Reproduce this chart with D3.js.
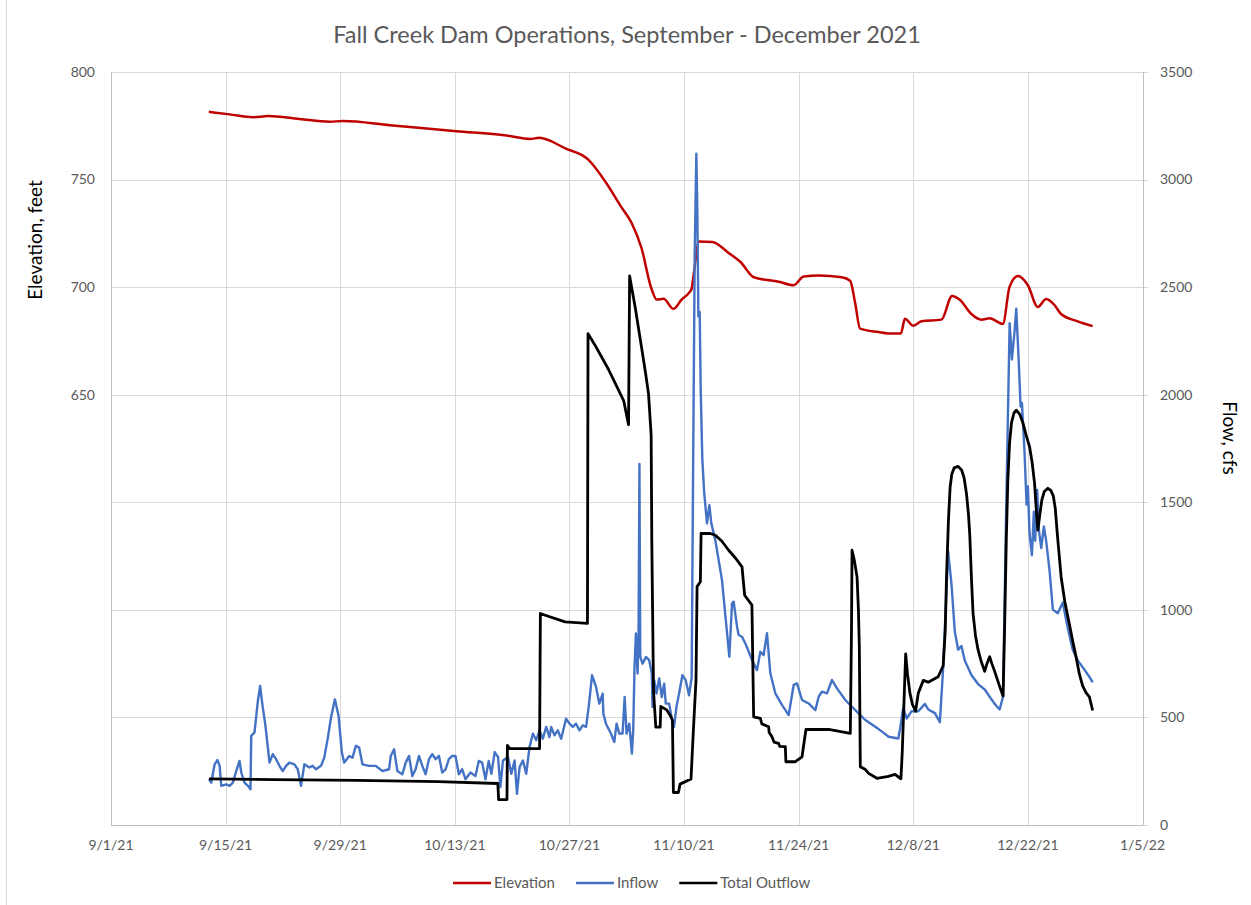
<!DOCTYPE html>
<html>
<head>
<meta charset="utf-8">
<script src="https://cdn.jsdelivr.net/npm/d3@7"></script>
<style>
  body { margin: 0; background: #fff; }
  svg { display: block; font-family: Lato, "Open Sans", sans-serif; }
</style>
</head>
<body>
<svg width="1251" height="905"></svg>
<script>
// days after 9/1/21, value
var startDate = "2021-09-01";

var xTickLabels = ["9/1/21", "9/15/21", "9/29/21", "10/13/21", "10/27/21", "11/10/21", "11/24/21", "12/8/21", "12/22/21", "1/5/22"];
var elevTicks = [800, 750, 700, 650];
var flowTicks = [0, 500, 1000, 1500, 2000, 2500, 3000, 3500];

var elevation = [
  [11.95, 781.5], [14.5, 780.3], [17.35, 779.0], [19.2, 779.5], [23, 778.2], [26.7, 776.9], [28.35, 777.2],
  [34.06, 775.3], [42.2, 772.5], [48.3, 770.5], [51.2, 768.9], [52.3, 769.4], [55.5, 764.5], [58.3, 759.3],
  [60.5, 748.4], [62.2, 738], [63.6, 729.8], [64.8, 718.2], [66.0, 699.5], [66.65, 694.2], [67.5, 694.6],
  [68.7, 689.9], [69.7, 694.2], [70.7, 697.8], [70.93, 699.3], [71.22, 707.1], [71.83, 721.2], [73.44, 721.0],
  [75.48, 715.8], [76.9, 711.7], [78.52, 704.6], [81.57, 702.5], [83.39, 700.9], [84.61, 705.0], [86.44, 705.4],
  [89.27, 704.6], [90.29, 703.0], [90.9, 692.6], [91.5, 680.7], [93.75, 679.1], [94.95, 678.5], [96.49, 678.5],
  [96.98, 685.3], [98.0, 682.1], [99.0, 684.1], [101.44, 684.9], [102.74, 695.9], [103.68, 694.1], [105.09, 687.5],
  [106.32, 684.9], [107.33, 685.5], [108.95, 682.9], [109.76, 700.1], [110.77, 705.2], [112.0, 700.9],
  [113.21, 690.8], [114.23, 694.5], [115.25, 691.7], [116.05, 687.5], [118.08, 684.1], [119.91, 681.9]
];

var inflow = [
  [11.97, 213], [12.25, 197], [12.66, 282], [12.99, 302], [13.27, 275], [13.47, 182], [14.08, 189], [14.49, 182],
  [14.89, 197], [15.30, 251], [15.70, 298], [15.91, 244], [16.31, 197], [16.72, 182], [17.04, 166], [17.13, 414],
  [17.53, 430], [17.94, 577], [18.22, 646], [18.46, 569], [18.87, 461], [19.36, 290], [19.76, 329], [20.17, 306],
  [20.57, 275], [20.98, 251], [21.39, 275], [21.79, 290], [22.40, 282], [22.81, 259], [23.21, 182], [23.62, 282],
  [24.23, 267], [24.63, 275], [25.04, 259], [25.65, 275], [26.05, 313], [26.46, 399], [26.87, 499], [27.35, 584],
  [27.80, 507], [28.20, 337], [28.49, 290], [29.10, 321], [29.50, 313], [29.91, 368], [30.31, 360], [30.72, 282],
  [31.53, 275], [32.34, 275], [33.16, 251], [33.97, 259], [34.17, 321], [34.58, 352], [34.98, 251], [35.59, 236],
  [36.0, 290], [36.40, 321], [36.81, 228], [37.21, 259], [37.62, 321], [38.03, 275], [38.43, 236], [38.84, 306],
  [39.24, 329], [39.65, 306], [40.06, 321], [40.46, 244], [40.87, 259], [41.27, 306], [41.68, 321], [42.08, 321],
  [42.49, 236], [42.90, 259], [43.30, 213], [43.91, 244], [44.52, 228], [44.93, 298], [45.33, 290], [45.74, 213],
  [46.14, 298], [46.46, 238], [46.87, 339], [47.28, 316], [47.56, 176], [47.88, 300], [48.49, 316], [48.90, 238],
  [49.30, 300], [49.59, 145], [49.91, 269], [50.32, 300], [50.72, 238], [51.13, 363], [51.54, 425], [51.94, 394],
  [52.35, 440], [52.75, 401], [53.16, 456], [53.56, 409], [53.77, 456], [54.17, 417], [54.58, 440], [54.99, 401],
  [55.59, 494], [56.0, 471], [56.41, 456], [56.81, 471], [57.22, 440], [57.62, 463], [58.03, 456], [58.35, 549],
  [58.76, 696], [59.25, 642], [59.65, 564], [60.06, 611], [60.14, 518], [60.46, 471], [61.07, 425], [61.48, 386],
  [61.76, 471], [62.09, 425], [62.49, 425], [62.74, 595], [62.98, 425], [63.31, 471], [63.63, 332], [63.79, 440],
  [63.95, 735], [64.12, 890], [64.32, 704], [64.44, 874], [64.55, 1678], [64.65, 781], [64.93, 750], [65.34, 781],
  [65.74, 766], [66.06, 704], [66.15, 549], [66.35, 673], [66.63, 611], [66.96, 681], [67.28, 595], [67.57, 657],
  [67.77, 564], [68.18, 564], [68.50, 494], [68.78, 456], [69.07, 549], [69.39, 611], [69.80, 696], [70.20, 673],
  [70.61, 603], [70.93, 686], [71.10, 1618], [71.30, 2654], [71.50, 3120], [71.62, 2861], [71.75, 2364],
  [71.91, 2385], [72.03, 2032], [72.23, 1701], [72.45, 1550], [72.80, 1402], [73.09, 1487], [73.33, 1402],
  [73.82, 1324], [74.63, 1139], [75.53, 782], [75.86, 1030], [76.06, 1038], [76.47, 922], [76.67, 883],
  [77.08, 875], [77.49, 844], [78.30, 767], [78.91, 720], [79.32, 805], [79.72, 790], [80.13, 891], [80.54, 705],
  [81.15, 612], [81.96, 558], [82.78, 511], [83.39, 651], [83.80, 658], [84.41, 581], [85.22, 565], [86.04, 534],
  [86.44, 596], [86.85, 620], [87.46, 612], [88.07, 674], [88.68, 635], [89.70, 581], [90.92, 534], [92.14, 488],
  [93.36, 457], [94.18, 434], [94.99, 410], [96.17, 402], [96.38, 445], [96.78, 546], [97.19, 495], [97.80, 529],
  [98.61, 529], [99.42, 563], [99.83, 537], [100.64, 520], [101.25, 478], [101.65, 731], [102.26, 1270],
  [102.67, 1119], [103.07, 900], [103.48, 815], [103.88, 832], [104.29, 765], [105.10, 697], [105.91, 655],
  [106.73, 630], [107.33, 596], [107.94, 563], [108.55, 537], [108.96, 596], [109.36, 1489], [109.77, 2332],
  [110.05, 2164], [110.38, 2298], [110.58, 2400], [110.87, 2164], [111.11, 1945], [111.27, 1962], [111.60, 1725],
  [111.84, 1489], [112.0, 1574], [112.20, 1355], [112.49, 1254], [112.73, 1456], [112.89, 1321], [113.14, 1557],
  [113.34, 1372], [113.63, 1287], [113.95, 1388], [114.23, 1321], [114.64, 1186], [115.05, 1001], [115.65, 984],
  [116.26, 1034], [116.87, 916], [117.48, 815], [118.09, 765], [118.90, 722], [119.51, 689], [119.92, 663]
];

var outflow = [
  [11.97, 214], [20, 211], [30, 207], [40, 202], [47.25, 193], [47.35, 118], [48.37, 118], [48.42, 370],
  [48.7, 355], [52.35, 355], [52.45, 983], [53.04, 975], [55.47, 944], [58.2, 937], [58.27, 2284], [59.16, 2228],
  [60.79, 2116], [62.62, 1973], [63.22, 1861], [63.35, 2552], [64.04, 2404], [64.84, 2212], [65.3, 2100],
  [65.66, 2004], [65.98, 1813], [66.06, 1317], [66.27, 622], [66.55, 455], [67.08, 455], [67.16, 551],
  [67.88, 535], [68.3, 510], [68.58, 488], [68.70, 151], [69.31, 151], [69.51, 190], [70.85, 214], [71.17, 464],
  [71.46, 674], [71.59, 1108], [71.99, 1131], [72.08, 1355], [73.2, 1355], [73.82, 1347], [74.6, 1320],
  [75.45, 1277], [76.3, 1240], [77.08, 1200], [77.40, 1068], [78.29, 1022], [78.50, 503], [79.32, 496],
  [79.5, 470], [80.33, 457], [80.4, 430], [80.74, 410], [81.0, 385], [81.55, 379], [81.7, 365], [82.37, 364],
  [82.44, 294], [83.59, 294], [84.41, 317], [84.61, 371], [84.89, 444], [87.66, 444], [90.31, 426],
  [90.45, 900], [90.52, 1277], [90.8, 1230], [91.13, 1154], [91.3, 1000], [91.41, 829], [91.53, 271],
  [92.11, 259], [92.55, 240], [93.56, 217], [94.95, 226], [95.76, 235], [96.49, 215], [96.65, 336], [97.07, 795],
  [97.3, 700], [97.59, 613], [97.9, 560], [98.28, 529], [98.61, 613], [99.22, 672], [99.83, 664], [101.04, 689],
  [101.65, 740], [101.9, 900], [102.06, 1153], [102.3, 1420], [102.5, 1570], [102.7, 1630], [103.0, 1660],
  [103.48, 1667], [103.9, 1650], [104.2, 1615], [104.5, 1540], [104.75, 1440], [104.9, 1350], [105.1, 1150],
  [105.3, 984], [105.6, 880], [105.91, 815], [106.3, 760], [106.72, 714], [107.0, 750], [107.33, 782],
  [107.6, 750], [107.94, 714], [108.5, 650], [108.97, 600], [109.15, 900], [109.36, 1321], [109.55, 1600],
  [109.76, 1776], [110.0, 1870], [110.3, 1915], [110.58, 1928], [111.0, 1910], [111.39, 1869], [111.8, 1810],
  [112.2, 1759], [112.5, 1690], [112.81, 1590], [113.0, 1480], [113.22, 1371], [113.45, 1440], [113.7, 1510],
  [114.0, 1550], [114.44, 1565], [114.8, 1555], [115.1, 1530], [115.35, 1470], [115.6, 1350], [116.06, 1153],
  [116.5, 1040], [117.07, 933], [117.5, 850], [117.88, 782], [118.3, 700], [118.69, 647], [119.1, 615],
  [119.51, 596], [119.91, 532]
];

var series = [
  {name: "Elevation", data: elevation, color: "#c00000", width: 2.5, axis: "left", curve: d3.curveMonotoneX},
  {name: "Inflow", data: inflow, color: "#4472c4", width: 2.4, axis: "right", curve: d3.curveLinear},
  {name: "Total Outflow", data: outflow, color: "#000000", width: 2.8, axis: "right", curve: d3.curveLinear}
];

var svg = d3.select("svg");
var parseDay = d3.timeParse("%Y-%m-%d");
var parseTick = d3.timeParse("%m/%d/%y");
var t0 = parseDay(startDate);
function toDate(d) { return new Date(t0.getTime() + d * 864e5); }

var plotL = 111, plotR = 1142.5, plotT = 72, plotB = 825;

var x = d3.scaleTime()
  .domain([parseTick(xTickLabels[0]), parseTick(xTickLabels[xTickLabels.length - 1])])
  .range([plotL, plotR]);
var yL = d3.scaleLinear().domain([450, 800]).range([plotB, plotT]);
var yR = d3.scaleLinear().domain([0, 3500]).range([plotB, plotT]);

svg.append("rect").attr("x", 6.5).attr("y", -2).attr("width", 1260).attr("height", 910)
  .attr("fill", "#fff").attr("stroke", "#d9d9d9");

// grid
var grid = svg.append("g").attr("stroke", "#d9d9d9").attr("stroke-width", 1);
grid.selectAll("line.h")
  .data(flowTicks)
  .enter().append("line")
  .attr("x1", plotL).attr("x2", plotR + 6)
  .attr("y1", function (d) { return Math.round(yR(d)) + 0.5; })
  .attr("y2", function (d) { return Math.round(yR(d)) + 0.5; });
grid.selectAll("line.v")
  .data(xTickLabels)
  .enter().append("line")
  .attr("x1", function (d) { return Math.round(x(parseTick(d))) + 0.5; })
  .attr("x2", function (d) { return Math.round(x(parseTick(d))) + 0.5; })
  .attr("y1", plotT).attr("y2", plotB);

// axis lines
svg.append("line").attr("x1", plotL + 0.5).attr("x2", plotL + 0.5).attr("y1", plotT).attr("y2", plotB)
  .attr("stroke", "#bfbfbf");
svg.append("line").attr("x1", Math.round(plotR) + 0.5).attr("x2", Math.round(plotR) + 0.5).attr("y1", plotT).attr("y2", plotB)
  .attr("stroke", "#bfbfbf");
svg.append("line").attr("x1", plotL).attr("x2", plotR).attr("y1", plotB + 0.5).attr("y2", plotB + 0.5)
  .attr("stroke", "#bfbfbf");

// tick labels
var tickStyle = function (sel) {
  sel.attr("fill", "#595959").attr("font-size", "14px");
};
svg.append("g").selectAll("text")
  .data(elevTicks)
  .enter().append("text")
  .attr("x", 95).attr("y", function (d) { return yL(d); })
  .attr("dy", "0.35em").attr("text-anchor", "end")
  .text(function (d) { return d; })
  .call(tickStyle);
svg.append("g").selectAll("text")
  .data(flowTicks)
  .enter().append("text")
  .attr("x", 1160).attr("y", function (d) { return yR(d); })
  .attr("dy", "0.35em")
  .text(function (d) { return d; })
  .call(tickStyle);
svg.append("g").selectAll("text")
  .data(xTickLabels)
  .enter().append("text")
  .attr("x", function (d) { return x(parseTick(d)); }).attr("y", 845)
  .attr("dy", "0.35em").attr("text-anchor", "middle")
  .text(function (d) { return d; })
  .call(tickStyle);

// titles
svg.append("text").attr("x", 627).attr("y", 35).attr("dy", "0.35em")
  .attr("text-anchor", "middle").attr("fill", "#595959").attr("font-size", "23.5px")
  .text("Fall Creek Dam Operations, September - December 2021");
svg.append("text").attr("transform", "translate(35,240) rotate(-90)")
  .attr("dy", "0.35em").attr("text-anchor", "middle").attr("font-size", "19px").attr("fill", "#000")
  .text("Elevation, feet");
svg.append("text").attr("transform", "translate(1230,438) rotate(90)")
  .attr("dy", "0.35em").attr("text-anchor", "middle").attr("font-size", "19px").attr("fill", "#000")
  .text("Flow, cfs");

// series
series.forEach(function (s) {
  var yy = s.axis === "left" ? yL : yR;
  var line = d3.line()
    .x(function (d) { return x(toDate(d[0])); })
    .y(function (d) { return yy(d[1]); })
    .curve(s.curve);
  svg.append("path")
    .datum(s.data)
    .attr("fill", "none")
    .attr("stroke", s.color)
    .attr("stroke-width", s.width)
    .attr("stroke-linejoin", "round")
    .attr("d", line);
});

// legend
var lx = 453;
series.forEach(function (s) {
  var g = svg.append("g").attr("transform", "translate(" + lx + ",883)");
  g.append("line").attr("x1", 0).attr("x2", 38).attr("stroke", s.color).attr("stroke-width", 2.5);
  var t = g.append("text").attr("x", 41).attr("dy", "0.35em").text(s.name).call(tickStyle).attr("font-size", "15px");
  lx += 41 + t.node().getComputedTextLength() + 21;
});
</script>
</body>
</html>
